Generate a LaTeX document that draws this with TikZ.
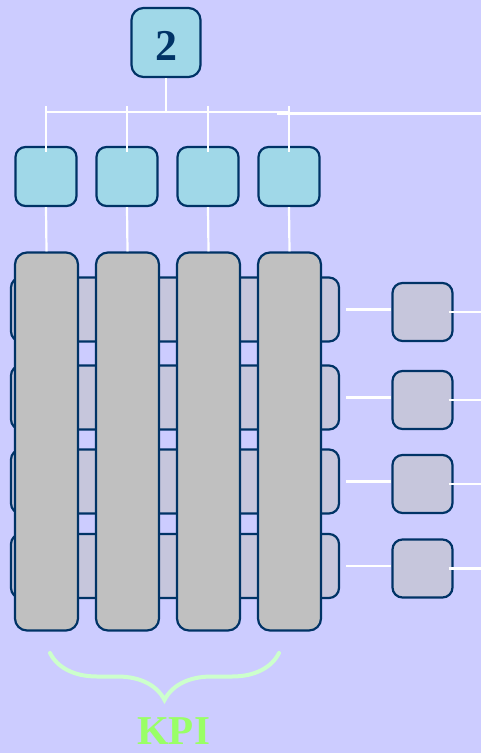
\documentclass[tikz,border=0pt]{standalone}
\usepackage{fontspec}
\setmainfont{Liberation Serif}
\usetikzlibrary{decorations.pathreplacing}
\definecolor{bg}{HTML}{CCCCFF}
\definecolor{boxblue}{HTML}{A0D8E8}
\definecolor{edge}{HTML}{003366}
\definecolor{colgrey}{HTML}{C0C0C0}
\definecolor{rowgrey}{HTML}{C6C6DC}
\definecolor{kpigreen}{HTML}{99FF66}
\definecolor{bracegreen}{HTML}{CCFFCC}

\begin{document}
\begin{tikzpicture}[x=1pt, y=-1pt,
	card/.style={draw=edge, line width=2.2pt, rounded corners=10pt, inner sep=0pt, minimum width=61pt, minimum height=59pt},
	link/.style={white, line width=2.2pt}]
	\fill[bg] (0,0) rectangle (481,753);
	\useasboundingbox (0,0) rectangle (481,753);

	\node[card, fill=boxblue, minimum width=69pt, minimum height=69pt, rounded corners=12pt, text=edge, font=\bfseries\fontsize{44}{44}\selectfont, text height=35pt, text depth=0pt] (top) at (166,42.5) {2};
	\coordinate (busL) at (46,112);
	\coordinate (busR) at (481,113.5);

	\foreach \i/\y in {1/309.5, 2/397.5, 3/481.5, 4/566} {
		\node[card, fill=rowgrey, minimum width=328pt, minimum height=64pt] (r\i) at (175,\y) {};
		\node[card, fill=rowgrey, minimum width=60pt, minimum height=58pt] (s\i) at (422.5,\y+2.5) {};
	}
	\foreach \i/\x in {1/46, 2/127, 3/208, 4/289} {
		\node[card, fill=boxblue] (b\i) at (\x,176.5) {};
		\node[card, fill=colgrey, minimum width=63pt, minimum height=378pt, rounded corners=12pt] (c\i) at (\x+0.5,441.5) {};
		\draw[link] (b\i.south) -- (c\i.north);
		\draw[link] ([yshift=40pt]b\i.north) -- ([yshift=-6pt]b\i.north);
	}

	\draw[link] (top.south) -- (top.south |- busL);
	\draw[link] (busL) -- ([xshift=1pt]b4.north |- busL);
	\draw[link] ([xshift=-12pt]b4.north |- busR) -- (busR);

	\foreach \i in {1,...,4} {
		\draw[link] ([xshift=6pt]r\i.east) -- (r\i.east -| s\i.west);
		\draw[link] ([xshift=-5pt]s\i.east) -- (s\i.east -| busR);
	}

	\draw[bracegreen, line width=4pt, line cap=round, decorate, decoration={brace, mirror, amplitude=47pt}] (50,653) -- (279,653);
	\node[text=kpigreen, inner sep=0pt, font=\bfseries\fontsize{41}{41}\selectfont] (kpi) at (173.5,731.5) {KPI};
\end{tikzpicture}
\end{document}
